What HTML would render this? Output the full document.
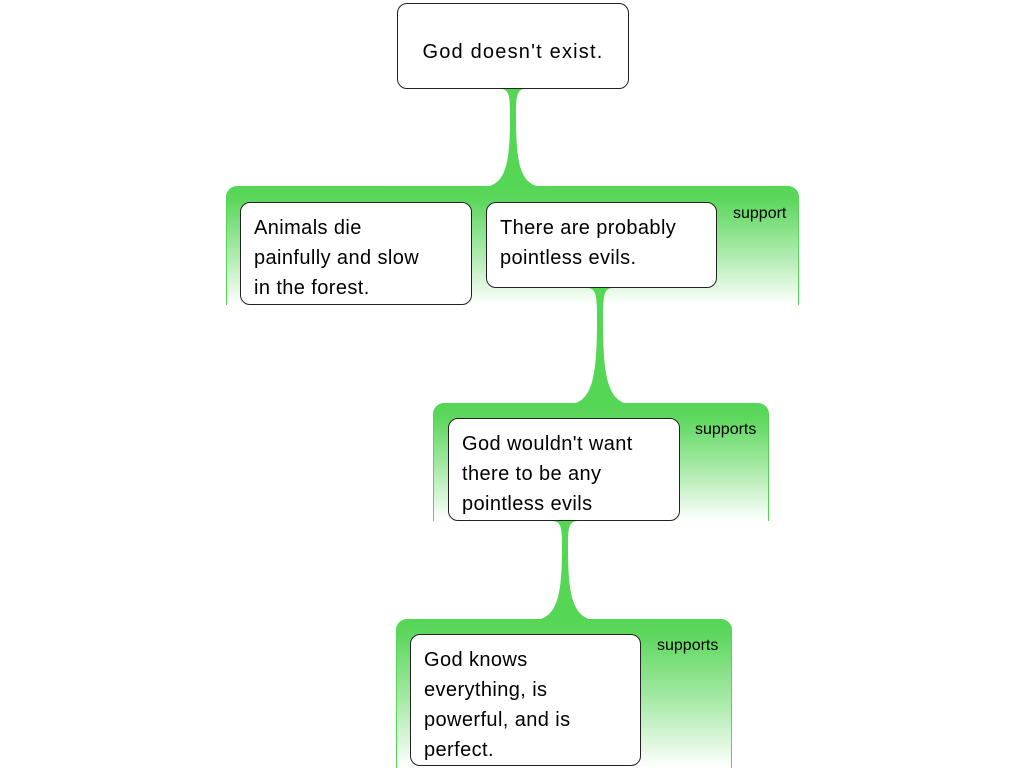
<!DOCTYPE html>
<html><head><meta charset="utf-8"><style>
body{margin:0;width:1024px;height:768px;background:#fff;position:relative;overflow:hidden;font-family:"Liberation Sans",sans-serif}
.panel{position:absolute;border-radius:11px 11px 0 0;background:linear-gradient(#55d655 0px,#5cd75c 14px,#a8eaa8 55%,#fff 100%);box-sizing:border-box;border-left:1px solid #55d655;border-right:1px solid #55d655}
.box{position:absolute;background:#fff;border:1px solid #222;border-radius:10px;box-sizing:border-box;font-size:20px;line-height:30px;padding:10px 13px;color:#000;letter-spacing:0.4px}
.lbl{position:absolute;font-size:16px;color:#000}
svg{position:absolute;left:0;top:0}
</style></head><body>
<div class="panel" style="left:226px;top:186px;width:573px;height:119px"></div>
<div class="panel" style="left:433px;top:403px;width:336px;height:118px"></div>
<div class="panel" style="left:396px;top:619px;width:336px;height:149px"></div>
<svg width="1024" height="768">
<g fill="#55d655">
<path d="M500,89 C509,89 510,95 510,115 C510,160 507,184 485,187 L541,187 C519,184 516,160 516,115 C516,95 517,89 526,89 Z"/>
<path d="M587,288 C596,288 597,295 597,318 C597,370 594,400 572,404 L628,404 C606,400 603,370 603,318 C603,295 604,288 613,288 Z"/>
<path d="M552,521 C561,521 562,528 562,545 C562,590 559,616 537,620 L593,620 C571,616 568,590 568,545 C568,528 569,521 578,521 Z"/>
</g></svg>
<div class="box" style="left:397px;top:3px;width:232px;height:86px;padding-top:34px;text-align:center;line-height:28px;letter-spacing:1.2px">God doesn't exist.</div>
<div class="box" style="left:240px;top:202px;width:232px;height:103px">Animals die<br>painfully and slow<br>in the forest.</div>
<div class="box" style="left:486px;top:202px;width:231px;height:86px">There are probably<br>pointless evils.</div>
<div class="box" style="left:448px;top:418px;width:232px;height:103px">God wouldn't want<br>there to be any<br>pointless evils</div>
<div class="box" style="left:410px;top:634px;width:231px;height:132px">God knows<br>everything, is<br>powerful, and is<br>perfect.</div>
<div class="lbl" style="left:733px;top:205px">support</div>
<div class="lbl" style="left:695px;top:421px">supports</div>
<div class="lbl" style="left:657px;top:637px">supports</div>
</body></html>
